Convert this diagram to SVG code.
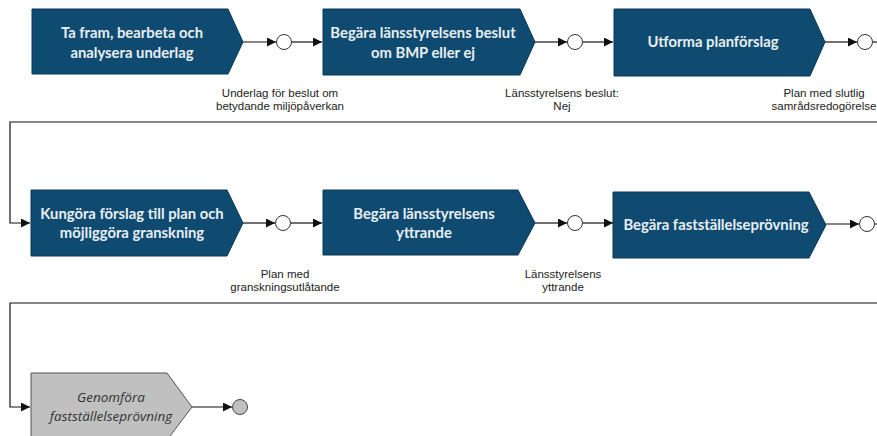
<svg xmlns="http://www.w3.org/2000/svg" width="877" height="436" viewBox="0 0 877 436">
<defs>
<marker id="ah" viewBox="0 0 10 10" refX="10" refY="5" markerWidth="9" markerHeight="9" markerUnits="userSpaceOnUse" orient="auto">
<path d="M0,0 L10,5 L0,10 z" fill="#111"/>
</marker>
<style>
.task{fill:#0f4b70;stroke:#0a3854;stroke-width:1}
.task2{fill:#c0c0c0;stroke:#555;stroke-width:1}
.tt{font-family:Lato,"Open Sans",sans-serif;font-weight:bold;font-size:14.8px;fill:#e8eef3;text-anchor:middle}
.tt2{font-family:"Open Sans",sans-serif;font-style:italic;font-size:13.5px;fill:#333;text-anchor:middle}
.lbl{font-family:"Liberation Sans",Arial,sans-serif;font-size:11.5px;fill:#222;text-anchor:middle}
.ev{fill:#fff;stroke:#333;stroke-width:1}
.ev2{fill:#c0c0c0;stroke:#444;stroke-width:1}
.c{fill:none;stroke:#111;stroke-width:1.2}
</style>
</defs>
<rect width="877" height="436" fill="#fff"/>
<g id="connectors">
<path class="c" d="M243,42 H276" marker-end="url(#ah)"/>
<path class="c" d="M292,42 H322" marker-end="url(#ah)"/>
<path class="c" d="M535,42 H567" marker-end="url(#ah)"/>
<path class="c" d="M583,42 H613" marker-end="url(#ah)"/>
<path class="c" d="M825,42 H857" marker-end="url(#ah)"/>
<path class="c" d="M873,42 H877"/>
<path class="c" d="M877,122 H10 V223 H30" marker-end="url(#ah)"/>
<path class="c" d="M243,223 H275" marker-end="url(#ah)"/>
<path class="c" d="M291,223 H322" marker-end="url(#ah)"/>
<path class="c" d="M535,223 H567" marker-end="url(#ah)"/>
<path class="c" d="M583,223 H613" marker-end="url(#ah)"/>
<path class="c" d="M826,224 H859" marker-end="url(#ah)"/>
<path class="c" d="M875,224 H877"/>
<path class="c" d="M877,303 H10 V407 H30" marker-end="url(#ah)"/>
<path class="c" d="M192,407 H232" marker-end="url(#ah)"/>
</g>
<g id="task1">
<path class="task" d="M32,9 H228 L243,42 L228,74 H32 Z"/>
<text class="tt" x="132" y="38">Ta fram, bearbeta och</text>
<text class="tt" x="132" y="58">analysera underlag</text>
</g>
<g id="event1">
<circle class="ev" cx="284" cy="42" r="7.5"/>
<text class="lbl" x="280" y="97">Underlag för beslut om</text>
<text class="lbl" x="280" y="110">betydande miljöpåverkan</text>
</g>
<g id="task2">
<path class="task" d="M323,9 H520 L535,42 L520,75 H323 Z"/>
<text class="tt" x="423" y="38">Begära länsstyrelsens beslut</text>
<text class="tt" x="423" y="58">om BMP eller ej</text>
</g>
<g id="event2">
<circle class="ev" cx="575" cy="42" r="7.5"/>
<text class="lbl" x="562" y="97">Länsstyrelsens beslut:</text>
<text class="lbl" x="562" y="110">Nej</text>
</g>
<g id="task3">
<path class="task" d="M614,9 H810 L825,42 L810,76 H614 Z"/>
<text class="tt" x="713" y="47">Utforma planförslag</text>
</g>
<g id="event3">
<circle class="ev" cx="865" cy="42" r="7.5"/>
<text class="lbl" x="824" y="97">Plan med slutlig</text>
<text class="lbl" x="824" y="110">samrådsredogörelse</text>
</g>
<g id="task4">
<path class="task" d="M31,190 H227 L243,223 L227,256 H31 Z"/>
<text class="tt" x="132" y="219">Kungöra förslag till plan och</text>
<text class="tt" x="132" y="238">möjliggöra granskning</text>
</g>
<g id="event4">
<circle class="ev" cx="283" cy="223" r="7.5"/>
<text class="lbl" x="285" y="278">Plan med</text>
<text class="lbl" x="285" y="291">granskningsutlåtande</text>
</g>
<g id="task5">
<path class="task" d="M323,190 H518 L535,223 L518,255 H323 Z"/>
<text class="tt" x="424" y="219">Begära länsstyrelsens</text>
<text class="tt" x="424" y="238">yttrande</text>
</g>
<g id="event5">
<circle class="ev" cx="575" cy="223" r="7.5"/>
<text class="lbl" x="563" y="278">Länsstyrelsens</text>
<text class="lbl" x="563" y="291">yttrande</text>
</g>
<g id="task6">
<path class="task" d="M613,192 H809 L826,225 L809,258 H613 Z"/>
<text class="tt" x="716" y="230">Begära fastställelseprövning</text>
</g>
<g id="event6">
<circle class="ev" cx="867" cy="224" r="7.5"/>
</g>
<g id="task7">
<path class="task2" d="M31,373 H167 L192,407 L167,440 H31 Z"/>
<text class="tt2" x="111" y="402">Genomföra</text>
<text class="tt2" x="111" y="421">fastställelseprövning</text>
</g>
<g id="event7">
<circle class="ev2" cx="240" cy="407" r="7.5"/>
</g>
</svg>
